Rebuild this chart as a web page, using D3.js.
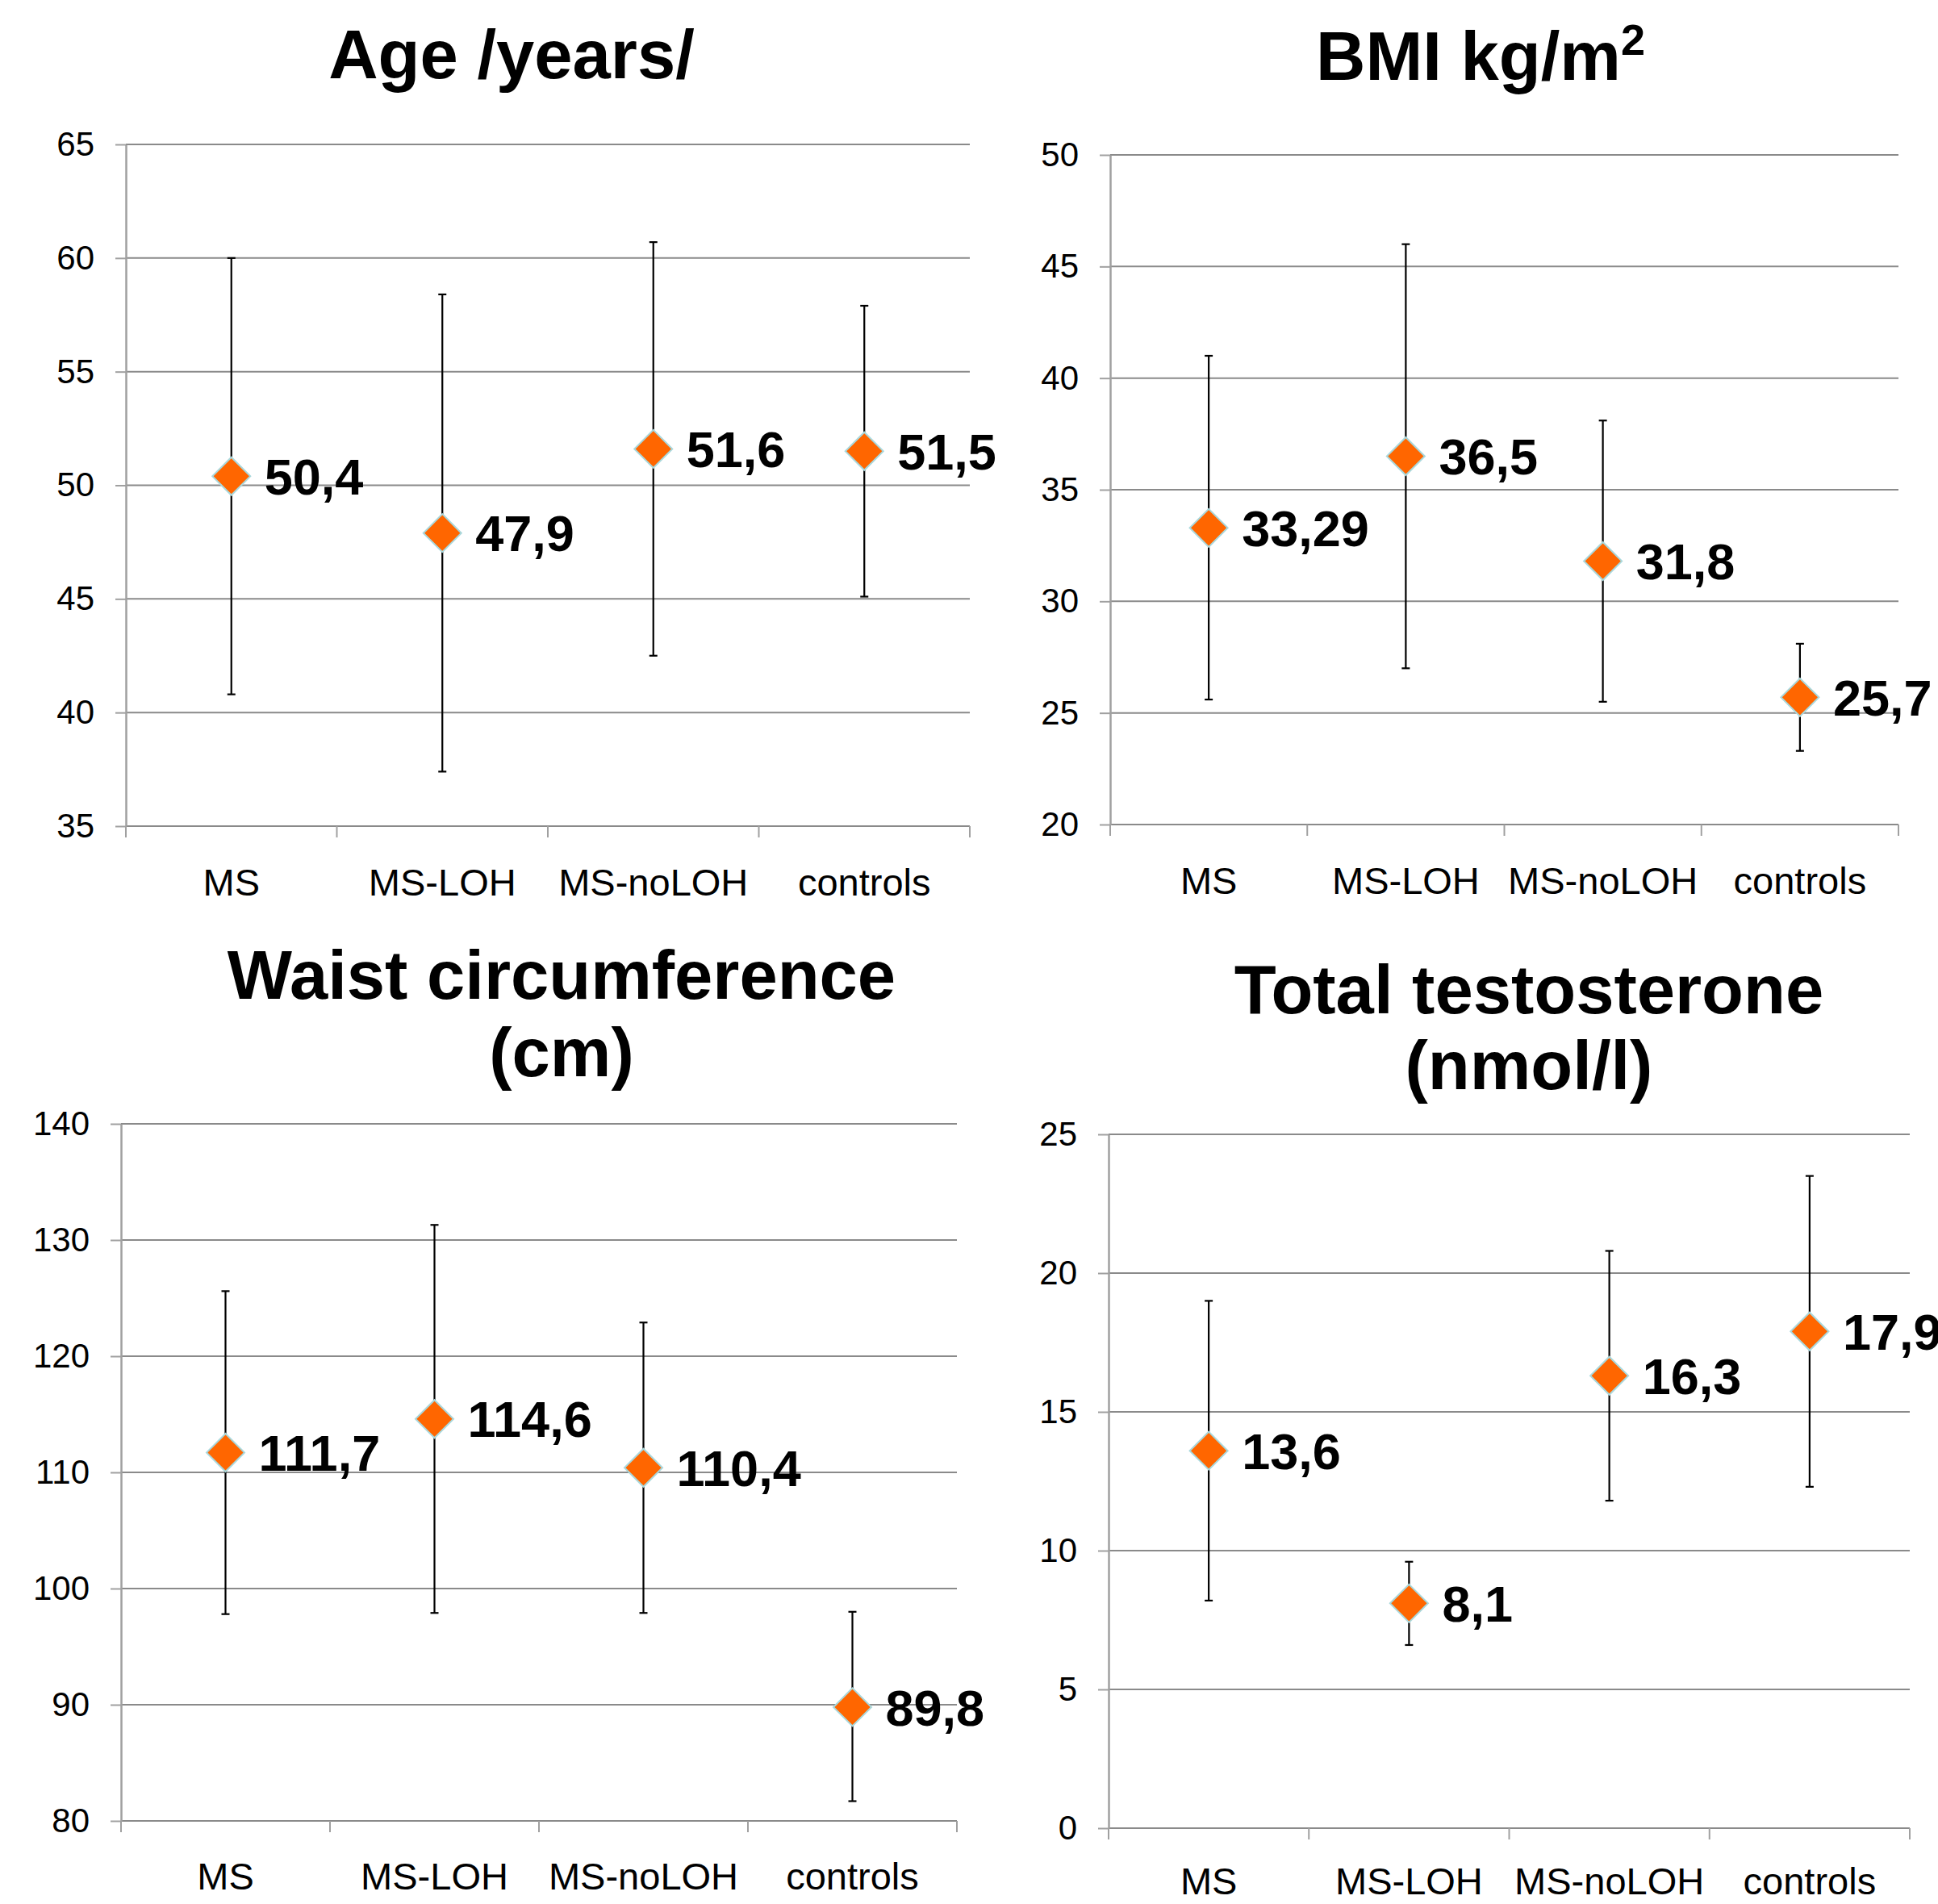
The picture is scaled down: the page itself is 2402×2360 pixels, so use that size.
<!DOCTYPE html>
<html>
<head>
<meta charset="utf-8">
<script src="https://cdn.jsdelivr.net/npm/d3@7"></script>
<style>
  body { margin: 0; background: #fff; }
  svg { display: block; font-family: "Liberation Sans", Arial, sans-serif; }
</style>
</head>
<body>
<svg id="chart" width="2402" height="2360"></svg>
<script>
// groups on the x axis (same for all four panels)
var categories = ["MS", "MS-LOH", "MS-noLOH", "controls"];

// Age /years/
var ageMean = [50.4, 47.9, 51.6, 51.5];
var ageLow  = [40.8, 37.4, 42.5, 45.1];
var ageHigh = [60.0, 58.4, 60.7, 57.9];
var ageTicks = [35, 40, 45, 50, 55, 60, 65];

// BMI kg/m2
var bmiMean = [33.29, 36.5, 31.8, 25.7];
var bmiLow  = [25.6, 27.0, 25.5, 23.3];
var bmiHigh = [41.0, 46.0, 38.1, 28.1];
var bmiTicks = [20, 25, 30, 35, 40, 45, 50];

// Waist circumference (cm)
var waistMean = [111.7, 114.6, 110.4, 89.8];
var waistLow  = [97.8, 97.9, 97.9, 81.7];
var waistHigh = [125.6, 131.3, 122.9, 98.0];
var waistTicks = [80, 90, 100, 110, 120, 130, 140];

// Total testosterone (nmol/l)
var testoMean = [13.6, 8.1, 16.3, 17.9];
var testoLow  = [8.2, 6.6, 11.8, 12.3];
var testoHigh = [19.0, 9.6, 20.8, 23.5];
var testoTicks = [0, 5, 10, 15, 20, 25];

var svg = d3.select("#chart");

var panels = [
  {title: ["Age /years/"], tx: 634, ty: [97],
   left: 156, right: 1202, top: 179, bottom: 1024, labelY: 1110,
   ticks: ageTicks, mean: ageMean, low: ageLow, high: ageHigh},
  {title: ["BMI kg/m"], sup: "2", tx: 1835, ty: [99],
   left: 1376, right: 2353, top: 192, bottom: 1022, labelY: 1108,
   ticks: bmiTicks, mean: bmiMean, low: bmiLow, high: bmiHigh},
  {title: ["Waist circumference", "(cm)"], tx: 696, ty: [1238, 1334],
   left: 150, right: 1186, top: 1393, bottom: 2257, labelY: 2342,
   ticks: waistTicks, mean: waistMean, low: waistLow, high: waistHigh},
  {title: ["Total testosterone", "(nmol/l)"], tx: 1895, ty: [1256, 1350],
   left: 1374, right: 2367, top: 1406, bottom: 2266, labelY: 2348,
   ticks: testoTicks, mean: testoMean, low: testoLow, high: testoHigh}
];

function fmt(v) { return String(v).replace(".", ","); }

panels.forEach(function(p) {
  var g = svg.append("g");

  var x = d3.scaleBand()
    .domain(categories)
    .range([p.left, p.right])
    .padding(0);

  var y = d3.scaleLinear()
    .domain(d3.extent(p.ticks))
    .range([p.bottom, p.top]);

  // title
  p.title.forEach(function(t, i) {
    var txt = g.append("text")
      .attr("x", p.tx)
      .attr("y", p.ty[i])
      .attr("text-anchor", "middle")
      .attr("font-size", 85)
      .attr("font-weight", "bold")
      .text(t);
    if (p.sup && i === 0) {
      txt.append("tspan")
        .attr("dy", -31)
        .attr("font-size", 54)
        .text(p.sup);
    }
  });

  // horizontal gridlines
  g.append("g")
    .selectAll("line")
    .data(p.ticks)
    .enter()
    .append("line")
    .attr("x1", p.left)
    .attr("x2", p.right)
    .attr("y1", (d) => y(d))
    .attr("y2", (d) => y(d))
    .attr("stroke", "#8a8a8a")
    .attr("stroke-width", 2);

  // y axis
  var yAxis = g.append("g")
    .attr("transform", "translate(" + p.left + ",0)")
    .call(d3.axisLeft(y).tickValues(p.ticks).tickSize(13).tickPadding(26).tickSizeOuter(0));
  yAxis.select(".domain").attr("stroke", "#a0a0a0").attr("stroke-width", 2.5);
  yAxis.selectAll(".tick line").attr("stroke", "#a0a0a0").attr("stroke-width", 2);
  yAxis.selectAll(".tick text")
    .attr("font-size", 42)
    .attr("font-family", "'Liberation Sans', Arial, sans-serif")
    .attr("fill", "#000");

  // x axis: labels centred in bands, tick marks on band edges
  var xAxis = g.append("g")
    .attr("transform", "translate(0," + p.bottom + ")")
    .call(d3.axisBottom(x).tickSize(0).tickPadding(0));
  xAxis.select(".domain").remove();
  xAxis.selectAll(".tick text")
    .attr("y", p.labelY - p.bottom)
    .attr("dy", 0)
    .attr("font-size", 47)
    .attr("font-family", "'Liberation Sans', Arial, sans-serif")
    .attr("fill", "#000");

  var edges = categories.map((c) => x(c)).concat([p.right]);
  g.append("g")
    .selectAll("line")
    .data(edges)
    .enter()
    .append("line")
    .attr("x1", (d) => d)
    .attr("x2", (d) => d)
    .attr("y1", p.bottom)
    .attr("y2", p.bottom + 14)
    .attr("stroke", "#a0a0a0")
    .attr("stroke-width", 2);

  var rows = categories.map(function(c, i) {
    return {cat: c, mean: p.mean[i], low: p.low[i], high: p.high[i]};
  });
  var cx = (d) => x(d.cat) + x.bandwidth() / 2;

  // error bars
  var eb = g.append("g")
    .selectAll("g")
    .data(rows)
    .enter()
    .append("g")
    .attr("stroke", "#000")
    .attr("stroke-width", 2.2);
  eb.append("line")
    .attr("x1", cx).attr("x2", cx)
    .attr("y1", (d) => y(d.low))
    .attr("y2", (d) => y(d.high));
  eb.append("line")
    .attr("x1", (d) => cx(d) - 5).attr("x2", (d) => cx(d) + 5)
    .attr("y1", (d) => y(d.low)).attr("y2", (d) => y(d.low));
  eb.append("line")
    .attr("x1", (d) => cx(d) - 5).attr("x2", (d) => cx(d) + 5)
    .attr("y1", (d) => y(d.high)).attr("y2", (d) => y(d.high));

  // diamonds
  g.append("g")
    .selectAll("path")
    .data(rows)
    .enter()
    .append("path")
    .attr("d", d3.symbol(d3.symbolSquare, 1105))
    .attr("transform", (d) => "translate(" + cx(d) + "," + y(d.mean) + ") rotate(45)")
    .attr("fill", "#ff6600")
    .attr("stroke", "#a9d8dc")
    .attr("stroke-width", 2);

  // value labels
  g.append("g")
    .selectAll("text")
    .data(rows)
    .enter()
    .append("text")
    .attr("x", (d) => cx(d) + 41)
    .attr("y", (d) => y(d.mean))
    .attr("dy", "0.36em")
    .attr("font-size", 63)
    .attr("font-weight", "bold")
    .text((d) => fmt(d.mean));
});
</script>
</body>
</html>
